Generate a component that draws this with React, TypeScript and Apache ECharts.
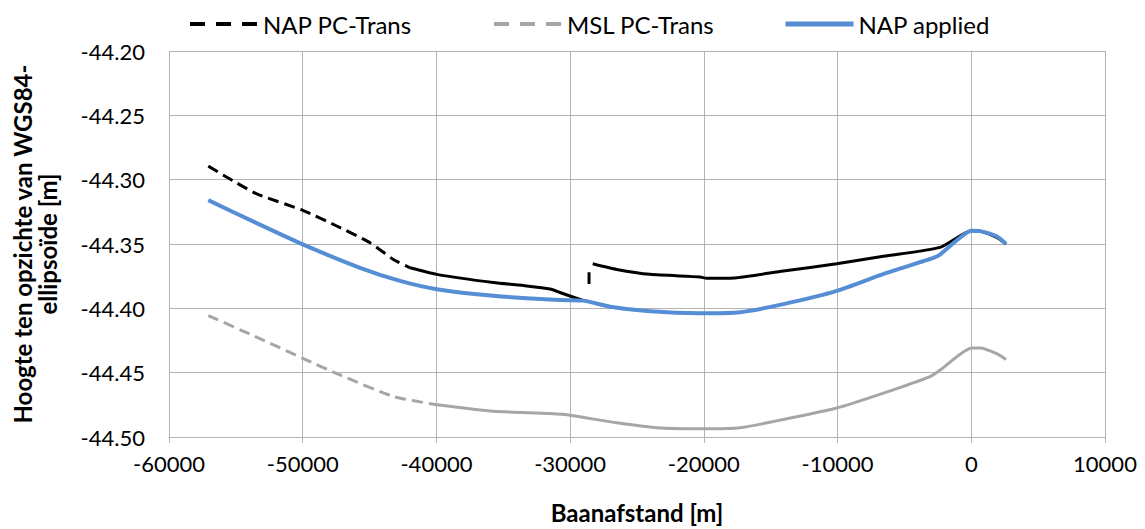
import React, { useEffect, useRef } from "react";
import * as echarts from "echarts";

const FONT = "Lato";

const xTicks = { min: -60000, max: 10000, step: 10000 };
const yTicks = { min: -44.5, max: -44.2, step: 0.05 };

const legendNames = ["NAP PC-Trans", "MSL PC-Trans", "NAP applied"];

// NAP PC-Trans (black): dashed start, then solid continuation with a small break
const napDashed: [number, number][] = [
  [-57060, -44.2895], [-55200, -44.301], [-53440, -44.311], [-49955, -44.324],
  [-47460, -44.336], [-44966, -44.349], [-43223, -44.362], [-41975, -44.3685],
];
const napSolid: ([number, number] | [number, null])[] = [
  [-41975, -44.3685], [-39977, -44.3736], [-35744, -44.380], [-33246, -44.3826],
  [-31500, -44.385], [-30755, -44.3877], [-29013, -44.394], [-28700, -44.3945],
  [-28650, null],
  [-28587, -44.372], [-28587, -44.381],
  [-28500, null],
  [-28310, -44.3654], [-26515, -44.3698], [-24024, -44.3736], [-20284, -44.3756],
  [-19786, -44.3767], [-17542, -44.3762], [-14053, -44.371], [-10060, -44.3654],
  [-6573, -44.3595], [-2333, -44.3526], [37, -44.3397], [657, -44.340],
  [1900, -44.3449], [2600, -44.350],
];

// MSL PC-Trans (grey)
const mslDashed: [number, number][] = [
  [-57060, -44.4056], [-53194, -44.4236], [-49955, -44.439], [-47210, -44.4518],
  [-43223, -44.4685], [-39977, -44.4749],
];
const mslSolid: [number, number][] = [
  [-39977, -44.4749], [-35744, -44.480], [-31503, -44.4818], [-29880, -44.4833],
  [-26515, -44.489], [-23523, -44.4928], [-20037, -44.4936], [-17293, -44.4928],
  [-14053, -44.4864], [-10060, -44.4775], [-6573, -44.4659], [-3082, -44.453],
  [-2333, -44.448], [37, -44.4308], [657, -44.4308], [1900, -44.4352], [2600, -44.4398],
];

// NAP applied (blue)
const napApplied: [number, number][] = [
  [-57060, -44.3159], [-53440, -44.3338], [-49955, -44.3505], [-45714, -44.3685],
  [-42722, -44.3787], [-39977, -44.3851], [-35744, -44.3902], [-30755, -44.3936],
  [-29013, -44.394], [-27016, -44.3987], [-24024, -44.4023], [-20284, -44.4038],
  [-17293, -44.403], [-14053, -44.3967], [-10060, -44.3864], [-6500, -44.373],
  [-2834, -44.3608], [-2333, -44.3582], [37, -44.3397], [657, -44.340],
  [1900, -44.344], [2600, -44.350],
];

const BLACK = "#000000";
const GREY = "#a6a6a6";
const BLUE = "#558ed5";
const GRID = "#b3b3b3";

export default function App() {
  const ref = useRef<HTMLDivElement>(null);
  useEffect(() => {
    if (!ref.current) return;
    const chart = echarts.init(ref.current, undefined, { renderer: "svg" });
    const legendBase = {
      top: 7,
      itemWidth: 68,
      itemHeight: 14,
      itemStyle: { opacity: 0 },
      textStyle: { fontFamily: FONT, fontSize: 24, color: "#000" },
    };
    chart.setOption({
      animation: false,
      textStyle: { fontFamily: FONT },
      grid: { left: 169, right: 40, top: 51, bottom: 88, containLabel: false },
      legend: [
        { ...legendBase, left: 183, data: [legendNames[0]], lineStyle: { width: 4, type: [15, 11] } },
        { ...legendBase, left: 487, data: [legendNames[1]], lineStyle: { width: 4, type: [15, 11] } },
        { ...legendBase, left: 778, data: [legendNames[2]], lineStyle: { width: 5 } },
      ],
      xAxis: {
        type: "value",
        min: xTicks.min,
        max: xTicks.max,
        interval: xTicks.step,
        name: "Baanafstand [m]",
        nameLocation: "middle",
        nameGap: 63,
        nameTextStyle: { fontFamily: FONT, fontSize: 24, fontWeight: "bold", color: "#000" },
        axisLine: { onZero: false, lineStyle: { color: GRID, width: 1 } },
        axisTick: { show: true, length: 6, lineStyle: { color: GRID } },
        axisLabel: {
          margin: 15,
          fontFamily: FONT,
          fontSize: 22,
          color: "#000",
          formatter: (v: number) => String(v),
        },
        splitLine: { show: true, lineStyle: { color: GRID, width: 1 } },
      },
      yAxis: {
        type: "value",
        min: yTicks.min,
        max: yTicks.max,
        interval: yTicks.step,
        name: "Hoogte ten opzichte van WGS84-\nellipsoïde [m]",
        nameLocation: "middle",
        nameGap: 109,
        nameRotate: 90,
        nameTextStyle: {
          fontFamily: FONT,
          fontSize: 24,
          fontWeight: "bold",
          color: "#000",
          lineHeight: 25,
          align: "center",
        },
        axisLine: { show: true, lineStyle: { color: GRID, width: 1 } },
        axisTick: { show: true, length: 6, lineStyle: { color: GRID } },
        axisLabel: {
          margin: 24,
          fontFamily: FONT,
          fontSize: 22,
          color: "#000",
          formatter: (v: number) => v.toFixed(2),
        },
        splitLine: { show: true, lineStyle: { color: GRID, width: 1 } },
      },
      series: [
        {
          name: legendNames[0],
          type: "line",
          data: napDashed,
          showSymbol: false,
          symbol: "none",
          smooth: 0.2,
          lineStyle: { color: BLACK, width: 3, type: [11, 6] },
          itemStyle: { color: BLACK },
          z: 2,
        },
        {
          name: legendNames[0],
          type: "line",
          data: napSolid,
          showSymbol: false,
          symbol: "none",
          smooth: 0.2,
          connectNulls: false,
          lineStyle: { color: BLACK, width: 3, type: "solid" },
          itemStyle: { color: BLACK },
          z: 2,
        },
        {
          name: legendNames[1],
          type: "line",
          data: mslDashed,
          showSymbol: false,
          symbol: "none",
          smooth: 0.2,
          lineStyle: { color: GREY, width: 3, type: [11, 6] },
          itemStyle: { color: GREY },
          z: 3,
        },
        {
          name: legendNames[1],
          type: "line",
          data: mslSolid,
          showSymbol: false,
          symbol: "none",
          smooth: 0.2,
          lineStyle: { color: GREY, width: 3, type: "solid" },
          itemStyle: { color: GREY },
          z: 3,
        },
        {
          name: legendNames[2],
          type: "line",
          data: napApplied,
          showSymbol: false,
          symbol: "none",
          smooth: 0.2,
          lineStyle: { color: BLUE, width: 4 },
          itemStyle: { color: BLUE },
          z: 4,
        },
      ],
    });
    return () => chart.dispose();
  }, []);
  return (
    <div
      ref={ref}
      style={{ position: "absolute", left: 0, top: 0, width: 1145, height: 529 }}
    />
  );
}
